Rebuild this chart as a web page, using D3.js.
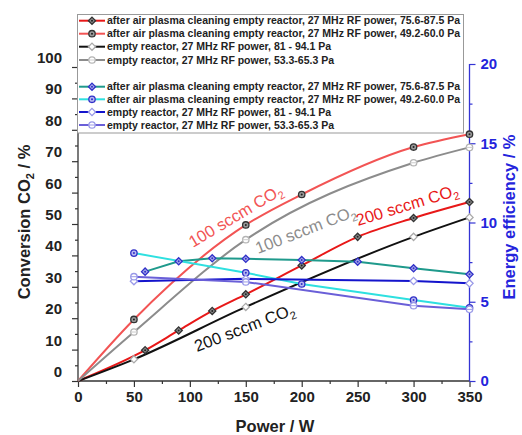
<!DOCTYPE html>
<html><head><meta charset="utf-8">
<script src="https://cdn.jsdelivr.net/npm/d3@7"></script>
<style>body{margin:0;background:#fff} svg{display:block;font-family:Arial,"Liberation Sans",sans-serif}</style>
</head><body><svg id="c" width="522" height="435"></svg>
<script>
// ---- data ----
const powerAirHigh = [0, 60, 90, 120, 150, 200, 250, 300, 350];
const convAirHigh  = [0, 9.8, 16.1, 22.3, 27.6, 36.8, 45.9, 51.9, 57.0];
const powerAirLow  = [0, 50, 150, 200, 300, 350];
const convAirLow   = [0, 19.6, 49.7, 59.4, 74.5, 78.6];
const powerEmptyHigh = [0, 50, 150, 300, 350];
const convEmptyHigh  = [0, 6.9, 23.6, 45.9, 52.1];
const powerEmptyLow  = [0, 50, 150, 300, 350];
const convEmptyLow   = [0, 15.6, 45.0, 69.5, 74.4];

const effPowerAirHigh = [60, 90, 120, 150, 200, 250, 300, 350];
const effAirHigh      = [6.9, 7.55, 7.74, 7.71, 7.63, 7.53, 7.11, 6.73];
const effPowerAirLow  = [50, 150, 200, 300, 350];
const effAirLow       = [8.07, 6.83, 6.12, 5.11, 4.62];
const effPowerEmptyHigh = [50, 150, 300, 350];
const effEmptyHigh      = [6.3, 6.45, 6.31, 6.16];
const effPowerEmptyLow  = [50, 150, 300, 350];
const effEmptyLow       = [6.58, 6.25, 4.75, 4.52];

const legendLabels = [
  "after air plasma cleaning empty reactor, 27 MHz RF power, 75.6-87.5 Pa",
  "after air plasma cleaning empty reactor, 27 MHz RF power, 49.2-60.0 Pa",
  "empty reactor, 27 MHz RF power, 81 - 94.1 Pa",
  "empty reactor, 27 MHz RF power, 53.3-65.3 Pa"
];
const xTicks = [0, 50, 100, 150, 200, 250, 300, 350];
const yLeftTicks = [0, 10, 20, 30, 40, 50, 60, 70, 80, 90, 100];
const yRightTicks = [0, 5, 10, 15, 20];

// ---- scales ----
const svg = d3.select("#c");
const x = d3.scaleLinear().domain([0, 350]).range([78, 469.5]);
const yL = d3.scaleLinear().domain([0, 100]).range([381, 67]);
const yR = d3.scaleLinear().domain([0, 20]).range([381, 64]);
const blue = "#3434d4";

const zip = (a, b) => a.map((p, i) => [p, b[i]]);

const series = [
  {p: powerAirHigh, v: convAirHigh, y: yL, color: "#e81818", mk: "diamondDot", legend: 0, grp: 0},
  {p: powerAirLow, v: convAirLow, y: yL, color: "#f25454", mk: "circleDot", legend: 1, grp: 0},
  {p: powerEmptyHigh, v: convEmptyHigh, y: yL, color: "#111111", mk: "diamondOpen", legend: 2, grp: 0},
  {p: powerEmptyLow, v: convEmptyLow, y: yL, color: "#8c8c8c", mk: "circleHalf", legend: 3, grp: 0},
  {p: effPowerAirHigh, v: effAirHigh, y: yR, color: "#1f9a8c", mk: "diamondDotB", legend: 0, grp: 1},
  {p: effPowerAirLow, v: effAirLow, y: yR, color: "#2ee0e0", mk: "circleDotB", legend: 1, grp: 1},
  {p: effPowerEmptyHigh, v: effEmptyHigh, y: yR, color: "#1414cc", mk: "diamondOpenB", legend: 2, grp: 1},
  {p: effPowerEmptyLow, v: effEmptyLow, y: yR, color: "#6a5fd8", mk: "circleHalfB", legend: 3, grp: 1}
];

function marker(g, type, cx, cy) {
  const s = 3.6, r = 3.2;
  const dpath = `M${cx},${cy - s}L${cx + s},${cy}L${cx},${cy + s}L${cx - s},${cy}Z`;
  const styles = {
    diamondDot:   {shape: "d", fill: "#8a8a8a", stroke: "#333", dot: "#222"},
    circleDot:    {shape: "c", fill: "#9a9a9a", stroke: "#333", dot: "#222"},
    diamondOpen:  {shape: "d", fill: "#fff", stroke: "#aaa", dot: null},
    circleHalf:   {shape: "c", fill: "#fff", stroke: "#b4b4b4", dot: null, half: "#ccc"},
    diamondDotB:  {shape: "d", fill: "#a8a8e8", stroke: "#3030c8", dot: "#3030c8"},
    circleDotB:   {shape: "c", fill: "#b8b8f0", stroke: "#3030c8", dot: "#3030c8"},
    diamondOpenB: {shape: "d", fill: "#fff", stroke: "#9a9ae8", dot: null},
    circleHalfB:  {shape: "c", fill: "#fff", stroke: "#9a9ae8", dot: null, half: "#9a9ae8"}
  }[type];
  if (styles.shape === "d") {
    g.append("path").attr("d", dpath).attr("fill", styles.fill).attr("stroke", styles.stroke).attr("stroke-width", 1.3);
  } else {
    g.append("circle").attr("cx", cx).attr("cy", cy).attr("r", r).attr("fill", styles.fill).attr("stroke", styles.stroke).attr("stroke-width", 1.3);
  }
  if (styles.dot) g.append("circle").attr("cx", cx).attr("cy", cy).attr("r", 1).attr("fill", styles.dot);
  if (styles.half) g.append("line").attr("x1", cx - r).attr("x2", cx + r).attr("y1", cy).attr("y2", cy).attr("stroke", styles.half).attr("stroke-width", 1);
}

// ---- axes ----
const txt = "#222";
function styleAxis(g, color) {
  g.selectAll("line").attr("stroke", color).attr("stroke-width", 1.2);
  g.selectAll("path.domain").remove();
  g.selectAll("text").attr("fill", color === blue ? "#2424dc" : txt)
    .style("font-size", "15px").style("font-weight", "bold").style("font-family", "Arial, 'Liberation Sans', sans-serif");
}
// X axis
const gx = svg.append("g").attr("transform", `translate(0,${yL(0)})`)
  .call(d3.axisBottom(x).tickValues(xTicks).tickSize(6).tickPadding(4).tickFormat(d3.format("d")));
styleAxis(gx, "#333");
const gxm = svg.append("g").attr("transform", `translate(0,${yL(0)})`)
  .call(d3.axisBottom(x).tickValues(d3.range(25, 350, 50)).tickSize(3).tickFormat(""));
styleAxis(gxm, "#333");
svg.append("line").attr("x1", x(0)).attr("x2", x(350)).attr("y1", yL(0)).attr("y2", yL(0)).attr("stroke", "#333").attr("stroke-width", 1.3);

// Left axis
const gy = svg.append("g").attr("transform", `translate(${x(0)},0)`)
  .call(d3.axisLeft(yL).tickValues(yLeftTicks).tickSize(6).tickPadding(10).tickFormat(d3.format("d")));
styleAxis(gy, "#333");
gy.selectAll("text").attr("dy", "-0.3em");
const gym = svg.append("g").attr("transform", `translate(${x(0)},0)`)
  .call(d3.axisLeft(yL).tickValues(d3.range(5, 100, 10)).tickSize(3).tickFormat(""));
styleAxis(gym, "#333");
svg.append("line").attr("x1", x(0)).attr("x2", x(0)).attr("y1", yL(0)).attr("y2", 14).attr("stroke", "#333").attr("stroke-width", 1.3);

// Right axis
const gr = svg.append("g").attr("transform", `translate(${x(350)},0)`)
  .call(d3.axisRight(yR).tickValues(yRightTicks).tickSize(6).tickPadding(5).tickFormat(d3.format("d")));
styleAxis(gr, blue);
const grm = svg.append("g").attr("transform", `translate(${x(350)},0)`)
  .call(d3.axisRight(yR).tickValues(d3.range(2.5, 20, 5)).tickSize(3).tickFormat(""));
styleAxis(grm, blue);
svg.append("line").attr("x1", x(350)).attr("x2", x(350)).attr("y1", yR(0)).attr("y2", yR(20)).attr("stroke", blue).attr("stroke-width", 1.3);

// Axis titles
svg.append("text").attr("transform", `translate(275,432)`).attr("text-anchor", "middle")
  .style("font-size", "16.5px").style("font-weight", "bold").attr("fill", txt).text("Power / W");
const yt = svg.append("text").attr("transform", `translate(30,222) rotate(-90)`).attr("text-anchor", "middle")
  .style("font-size", "16.5px").style("font-weight", "bold").attr("fill", txt);
yt.append("tspan").text("Conversion CO");
yt.append("tspan").attr("dy", 4).style("font-size", "11px").text("2");
yt.append("tspan").attr("dy", -4).text(" / %");
svg.append("text").attr("transform", `translate(515,217) rotate(-90)`).attr("text-anchor", "middle")
  .style("font-size", "16.5px").style("font-weight", "bold").attr("fill", "#2424dc").text("Energy efficiency / %");

// ---- lines ----
const plot = svg.append("g");
series.forEach(s => {
  const pts = zip(s.p, s.v);
  const line = d3.line().x(d => x(d[0])).y(d => s.y(d[1]))
    .curve(s.grp === 0 ? d3.curveMonotoneX : d3.curveLinear);
  plot.append("path").datum(pts).attr("d", line).attr("fill", "none")
    .attr("stroke", s.color).attr("stroke-width", 2);
});
series.forEach(s => {
  zip(s.p, s.v).forEach(d => { if (d[0] > 0) marker(plot, s.mk, x(d[0]), s.y(d[1])); });
});

// ---- annotations ----
function ann(xp, yp, ang, color) {
  const t = svg.append("text").attr("transform", `translate(${xp},${yp}) rotate(${ang})`)
    .style("font-size", "16.5px").attr("fill", color);
  return t;
}
function annText(t, num) {
  t.append("tspan").text(num + " sccm CO");
  t.append("tspan").attr("dy", 4).style("font-size", "11px").text("2");
}
annText(ann(193, 248, -31, "#f25454"), "100");
annText(ann(258, 254, -21, "#8c8c8c"), "100");
annText(ann(358, 226, -17, "#e81818"), "200");
annText(ann(197, 352, -21, "#111111"), "200");

// ---- legend ----
const lg = svg.append("g");
lg.append("rect").attr("x", 77.5).attr("y", 14.5).attr("width", 386).attr("height", 118.5)
  .attr("fill", "#fff").attr("stroke", "#999").attr("stroke-width", 1);
const rowY = [20.7, 33.7, 46.7, 60, 86.7, 99.3, 112, 125];
series.forEach((s, i) => {
  const yy = rowY[s.grp * 4 + s.legend];
  lg.append("line").attr("x1", 79).attr("x2", 105).attr("y1", yy).attr("y2", yy)
    .attr("stroke", s.color).attr("stroke-width", 2);
  marker(lg, s.mk, 92, yy);
  lg.append("text").attr("x", 107).attr("y", yy).attr("dy", "0.36em")
    .style("font-size", "10.5px").style("font-weight", "bold").attr("fill", "#222")
    .text(legendLabels[s.legend]);
});
</script></body></html>
